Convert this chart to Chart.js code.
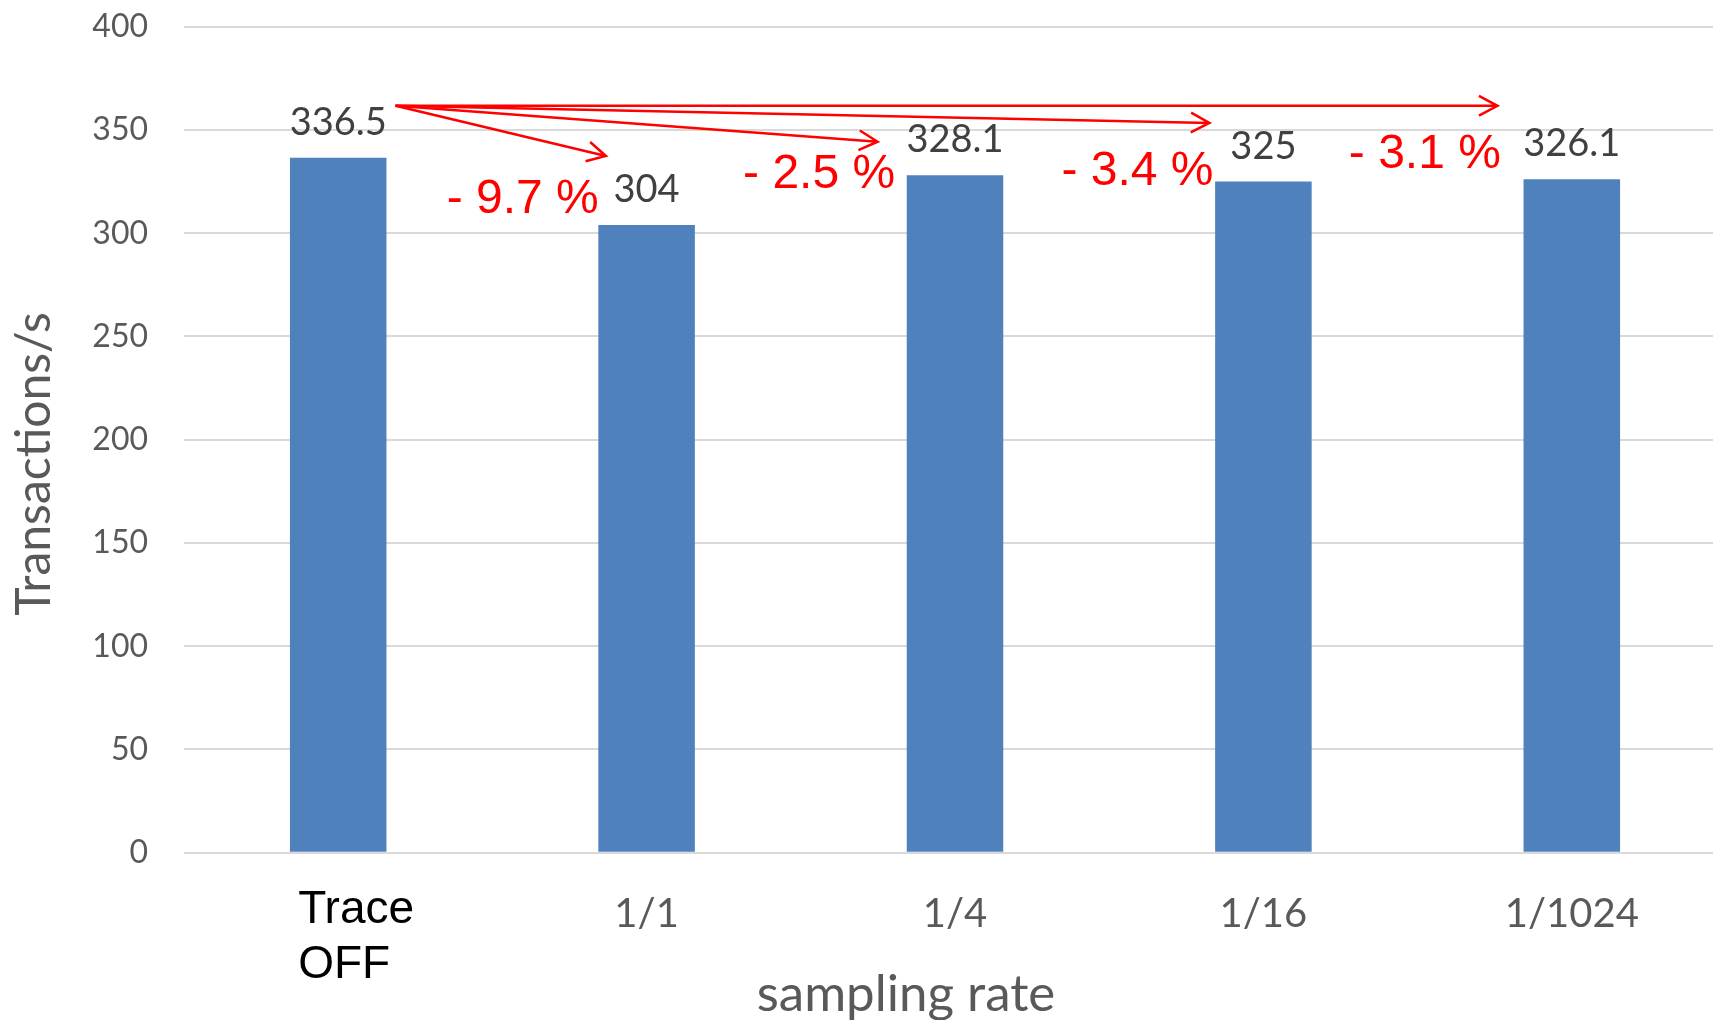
<!DOCTYPE html>
<html>
<head>
<meta charset="utf-8">
<script src="https://cdn.jsdelivr.net/npm/chart.js@4.4.1/dist/chart.umd.min.js"></script>
<style>
  html, body { margin: 0; padding: 0; background: #ffffff; overflow: hidden; }
  #wrap { position: relative; width: 1726px; height: 1020px; }
</style>
</head>
<body>
<div id="wrap"><canvas id="c"></canvas></div>
<script>
// ---- data ----
const categories = ['Trace OFF', '1/1', '1/4', '1/16', '1/1024'];
const transactions = [336.5, 304, 328.1, 325, 326.1];
const yTickValues = [0, 50, 100, 150, 200, 250, 300, 350, 400];
const xAxisTitle = 'sampling rate';
const yAxisTitle = 'Transactions/s';

// ---- annotation layout (category index + fraction of a category step, value units) ----
const arrowFrom = { cat: 0, dx: 0.186, v: 361.7 };
const arrowTo = [
  { cat: 1, dx: -0.132, v: 337.4 },
  { cat: 2, dx: -0.251, v: 344.3 },
  { cat: 3, dx: -0.175, v: 353.4 },
  { cat: 4, dx: -0.241, v: 361.7 }
];
const dropLabelAt = [
  { cat: 1, dx: -0.155, v: 309.8 },
  { cat: 2, dx: -0.194, v: 321.9 },
  { cat: 3, dx: -0.162, v: 323.3 },
  { cat: 4, dx: -0.230, v: 331.6 }
];

const GRAY = '#595959';
const RED = '#ff0000';

function pctDrop(i) {
  const p = (transactions[i] - transactions[0]) / transactions[0] * 100;
  return '- ' + Math.abs(p).toFixed(1) + ' %';
}

function drawArrow(ctx, x0, y0, x1, y1) {
  const ang = Math.atan2(y1 - y0, x1 - x0);
  const len = 21, spread = 0.49;
  ctx.beginPath();
  ctx.moveTo(x0, y0);
  ctx.lineTo(x1, y1);
  ctx.moveTo(x1 - len * Math.cos(ang - spread), y1 - len * Math.sin(ang - spread));
  ctx.lineTo(x1, y1);
  ctx.lineTo(x1 - len * Math.cos(ang + spread), y1 - len * Math.sin(ang + spread));
  ctx.stroke();
}

const overlay = {
  id: 'overlay',
  afterDatasetsDraw(chart) {
    const { ctx, scales: { x, y } } = chart;
    const meta = chart.getDatasetMeta(0);
    const step = x.getPixelForValue(1) - x.getPixelForValue(0);
    const px = (p) => x.getPixelForValue(p.cat) + p.dx * step;
    const py = (p) => y.getPixelForValue(p.v);

    ctx.save();
    // value labels above the bars
    ctx.font = '38px Lato';
    ctx.fillStyle = '#404040';
    ctx.textAlign = 'center';
    ctx.textBaseline = 'alphabetic';
    meta.data.forEach((bar, i) => {
      ctx.fillText(String(transactions[i]), bar.x, bar.y - 23);
    });

    // arrows from the baseline bar to each sampled bar
    ctx.strokeStyle = RED;
    ctx.lineWidth = 2.5;
    ctx.lineJoin = 'miter';
    arrowTo.forEach((t) => drawArrow(ctx, px(arrowFrom), py(arrowFrom), px(t), py(t)));

    // relative drop labels
    ctx.font = '48px "Liberation Sans", Arial, sans-serif';
    ctx.fillStyle = RED;
    ctx.textAlign = 'right';
    dropLabelAt.forEach((p) => {
      ctx.fillText(pctDrop(p.cat), px(p), py(p));
    });
    ctx.restore();
  },
  afterDraw(chart) {
    const { ctx, scales: { x } } = chart;
    ctx.save();
    // first category label, two lines, black
    const words = categories[0].split(' ');
    ctx.font = '46px "Liberation Sans", Arial, sans-serif';
    ctx.fillStyle = '#000000';
    ctx.textAlign = 'left';
    ctx.textBaseline = 'alphabetic';
    const lx = x.getPixelForValue(0) - 40;
    words.forEach((w, k) => ctx.fillText(w, lx, 923 + k * 55));

    // axis titles
    ctx.fillStyle = GRAY;
    ctx.textAlign = 'center';
    ctx.font = '51px Lato';
    ctx.fillText(xAxisTitle, 906, 1011);
    ctx.font = '48px Lato';
    ctx.translate(50, 464);
    ctx.rotate(-Math.PI / 2);
    ctx.fillText(yAxisTitle, 0, 0);
    ctx.restore();
  }
};

Chart.defaults.font.family = 'Lato';

new Chart(document.getElementById('c'), {
  type: 'bar',
  data: {
    labels: categories,
    datasets: [{
      data: transactions,
      backgroundColor: '#4f81bd',
      borderWidth: 0,
      categoryPercentage: 1.0,
      barPercentage: 0.313
    }]
  },
  options: {
    responsive: true,
    maintainAspectRatio: false,
    animation: false,
    layout: { padding: { top: 26.7, left: 0, right: 0, bottom: 0 } },
    plugins: { legend: { display: false }, tooltip: { enabled: false } },
    scales: {
      x: {
        grid: { display: false, drawTicks: false },
        border: { display: false },
        ticks: {
          color: GRAY,
          font: { size: 40 },
          padding: 37,
          maxRotation: 0,
          autoSkip: false,
          callback: (v, i) => (i === 0 ? '' : categories[i])
        },
        afterFit(s) { s.height = 167.3; s.paddingLeft = 0; s.paddingRight = 0; }
      },
      y: {
        min: 0,
        max: 400,
        grid: { color: '#d9d9d9', lineWidth: 2, drawTicks: false },
        border: { display: false },
        afterBuildTicks(s) { s.ticks = yTickValues.map((v) => ({ value: v })); },
        ticks: { color: GRAY, font: { size: 32 }, padding: 36 },
        afterFit(s) { s.width = 184; s.paddingTop = 0; s.paddingBottom = 0; }
      }
    }
  },
  plugins: [overlay]
});
</script>
</body>
</html>
